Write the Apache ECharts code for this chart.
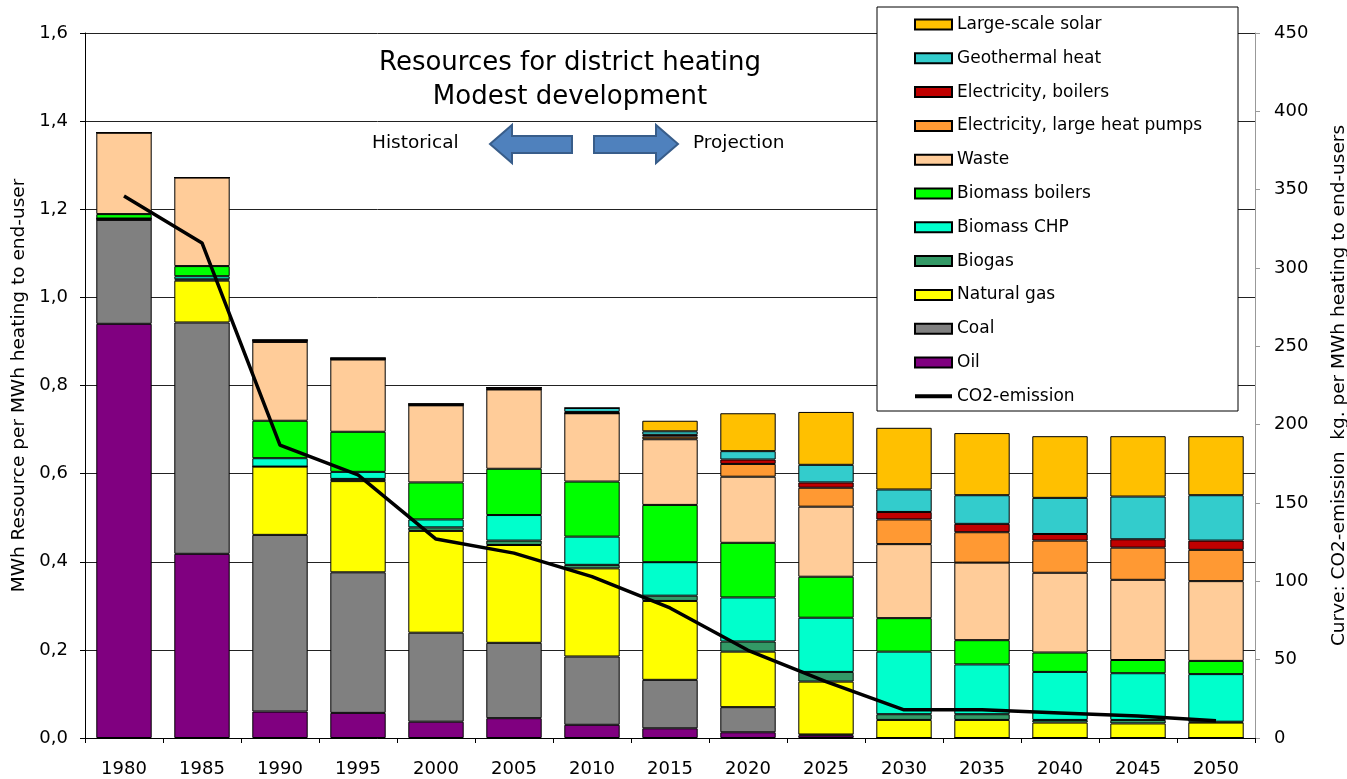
<!DOCTYPE html>
<html lang="en">
<head>
    <meta charset="UTF-8">
    <title>Resources for district heating</title>
    <style type="text/css">
        *{
            margin: 0;
            padding: 0;
        }
        #chart{
            width: 1347px;
            height: 779px;
            background: #fff;
        }
    </style>
</head>
<body>
<div id="chart"></div>
<script src="https://cdn.jsdelivr.net/npm/echarts@6/dist/echarts.min.js"></script>
<script>
    // categories
    var years = ['1980','1985','1990','1995','2000','2005','2010','2015','2020','2025','2030','2035','2040','2045','2050'];

    // MWh resource per MWh heating, stacked bottom-up
    var oil        = [0.940, 0.418, 0.060, 0.057, 0.037, 0.045, 0.030, 0.022, 0.013, 0.006, 0, 0, 0, 0, 0];
    var coal       = [0.236, 0.525, 0.401, 0.319, 0.202, 0.171, 0.155, 0.110, 0.057, 0.002, 0, 0, 0, 0, 0];
    var naturalGas = [0, 0.095, 0.155, 0.207, 0.231, 0.222, 0.200, 0.179, 0.126, 0.120, 0.041, 0.041, 0.035, 0.033, 0.035];
    var biogas     = [0.003, 0.003, 0, 0.005, 0.008, 0.010, 0.008, 0.012, 0.023, 0.022, 0.013, 0.013, 0.006, 0.008, 0.002];
    var biomassChp = [0, 0.007, 0.019, 0.016, 0.018, 0.058, 0.064, 0.076, 0.100, 0.123, 0.142, 0.113, 0.109, 0.106, 0.108];
    var biomassBoilers = [0.010, 0.023, 0.085, 0.091, 0.084, 0.105, 0.125, 0.130, 0.124, 0.093, 0.076, 0.055, 0.044, 0.030, 0.030];
    var waste      = [0.185, 0.201, 0.179, 0.164, 0.175, 0.180, 0.155, 0.149, 0.150, 0.159, 0.168, 0.176, 0.181, 0.182, 0.181];
    var elHeatPumps = [0, 0, 0, 0, 0, 0, 0, 0.006, 0.029, 0.043, 0.056, 0.069, 0.073, 0.073, 0.071];
    var elBoilers  = [0, 0, 0.004, 0.003, 0.003, 0.004, 0.003, 0.004, 0.010, 0.012, 0.017, 0.019, 0.015, 0.019, 0.021];
    var geothermal = [0, 0, 0, 0, 0, 0, 0.009, 0.008, 0.019, 0.040, 0.051, 0.065, 0.082, 0.097, 0.103];
    var solar      = [0, 0, 0, 0, 0, 0, 0, 0.024, 0.086, 0.120, 0.140, 0.141, 0.140, 0.137, 0.134];

    // kg CO2 per MWh heating (right axis)
    var co2 = [346, 316, 187, 168, 127, 118, 103, 83, 56, 36, 18, 18, 16, 14, 11];

    var font = 'DejaVu Sans';

    function bar(name, color, data) {
        return {
            name: name,
            type: 'bar',
            stack: 'res',
            barCategoryGap: '29%',
            itemStyle: { color: color, borderColor: '#000', borderWidth: 1 },
            data: data
        };
    }

    var legendNames = ['Large-scale solar', 'Geothermal heat', 'Electricity, boilers', 'Electricity, large heat pumps',
        'Waste', 'Biomass boilers', 'Biomass CHP', 'Biogas', 'Natural gas', 'Coal', 'Oil'];
    var legendData = legendNames.map(function (n) { return { name: n, icon: 'rect' }; });
    // line entry: keep a thick line, hide the default circle
    legendData.push({ name: 'CO2-emission', itemStyle: { opacity: 0 }, lineStyle: { width: 4, color: '#000' } });

    var myChart = echarts.init(document.getElementById('chart'));
    var option = {
        backgroundColor: '#fff',
        animation: false,
        textStyle: { fontFamily: font, color: '#000' },
        title: {
            text: 'Resources for district heating\nModest development',
            left: 565,
            top: 41,
            textAlign: 'center',
            textStyle: { fontFamily: font, fontSize: 26, fontWeight: 'normal', color: '#000', lineHeight: 34 }
        },
        grid: {
            left: 85,
            right: 92,
            top: 33,
            bottom: 41,
            containLabel: false,
            outerBoundsMode: 'none'
        },
        legend: {
            orient: 'vertical',
            left: 913,
            top: 16,
            padding: 0,
            itemWidth: 37,
            itemHeight: 10,
            itemGap: 16.8,
            textStyle: { fontFamily: font, fontSize: 17, color: '#000' },
            data: legendData
        },
        graphic: [
            {
                type: 'rect',
                z: 3,
                shape: { x: 877, y: 7, width: 361, height: 404 },
                style: { fill: '#fff', stroke: '#000', lineWidth: 1 }
            },
            {
                type: 'text',
                z: 5,
                style: { text: 'Historical', x: 372, y: 143, verticalAlign: 'middle', font: '18.5px "DejaVu Sans"', fill: '#000' }
            },
            {
                type: 'text',
                z: 5,
                style: { text: 'Projection', x: 693, y: 143, verticalAlign: 'middle', font: '18.5px "DejaVu Sans"', fill: '#000' }
            },
            {
                type: 'polygon',
                z: 5,
                shape: { points: [[490, 144], [512, 125], [512, 136], [572, 136], [572, 153], [512, 153], [512, 163]] },
                style: { fill: '#4F81BD', stroke: '#385D8A', lineWidth: 2 }
            },
            {
                type: 'polygon',
                z: 5,
                shape: { points: [[678, 144], [656, 125], [656, 136], [594, 136], [594, 153], [656, 153], [656, 163]] },
                style: { fill: '#4F81BD', stroke: '#385D8A', lineWidth: 2 }
            }
        ],
        xAxis: {
            type: 'category',
            data: years,
            axisLine: { lineStyle: { color: '#000', width: 1 } },
            axisTick: { show: true, length: 5, lineStyle: { color: '#000' } },
            axisLabel: { fontFamily: font, fontSize: 18, color: '#000', margin: 22 }
        },
        yAxis: [
            {
                type: 'value',
                min: 0,
                max: 1.6,
                interval: 0.2,
                name: 'MWh Resource per MWh heating to end-user',
                nameLocation: 'middle',
                nameGap: 56,
                nameTextStyle: { fontFamily: font, fontSize: 18.5, color: '#000' },
                axisLine: { show: true, lineStyle: { color: '#000' } },
                axisTick: { show: true, length: 5, lineStyle: { color: '#000' } },
                axisLabel: {
                    fontFamily: font, fontSize: 18, color: '#000', margin: 17,
                    formatter: function (v) { return v.toFixed(1).replace('.', ','); }
                },
                splitLine: { show: true, lineStyle: { color: '#222', width: 1 } }
            },
            {
                type: 'value',
                min: 0,
                max: 450,
                interval: 50,
                name: 'Curve: CO2-emission  kg. per MWh heating to end-users',
                nameLocation: 'middle',
                nameGap: 75,
                nameRotate: 90,
                nameTextStyle: { fontFamily: font, fontSize: 18.5, color: '#000' },
                axisLine: { show: true, lineStyle: { color: '#999' } },
                axisTick: { show: true, length: 5, lineStyle: { color: '#999' } },
                axisLabel: { fontFamily: font, fontSize: 18, color: '#000', margin: 19 },
                splitLine: { show: false }
            }
        ],
        series: [
            bar('Oil', '#800080', oil),
            bar('Coal', '#808080', coal),
            bar('Natural gas', '#FFFF00', naturalGas),
            bar('Biogas', '#339966', biogas),
            bar('Biomass CHP', '#00FFCC', biomassChp),
            bar('Biomass boilers', '#00FF00', biomassBoilers),
            bar('Waste', '#FFCC99', waste),
            bar('Electricity, large heat pumps', '#FF9933', elHeatPumps),
            bar('Electricity, boilers', '#C00000', elBoilers),
            bar('Geothermal heat', '#33CCCC', geothermal),
            bar('Large-scale solar', '#FFC000', solar),
            {
                name: 'CO2-emission',
                type: 'line',
                yAxisIndex: 1,
                symbol: 'none',
                z: 4,
                lineStyle: { color: '#000', width: 3.5 },
                itemStyle: { color: '#000' },
                data: co2
            }
        ]
    };
    myChart.setOption(option);
</script>
</body>
</html>
